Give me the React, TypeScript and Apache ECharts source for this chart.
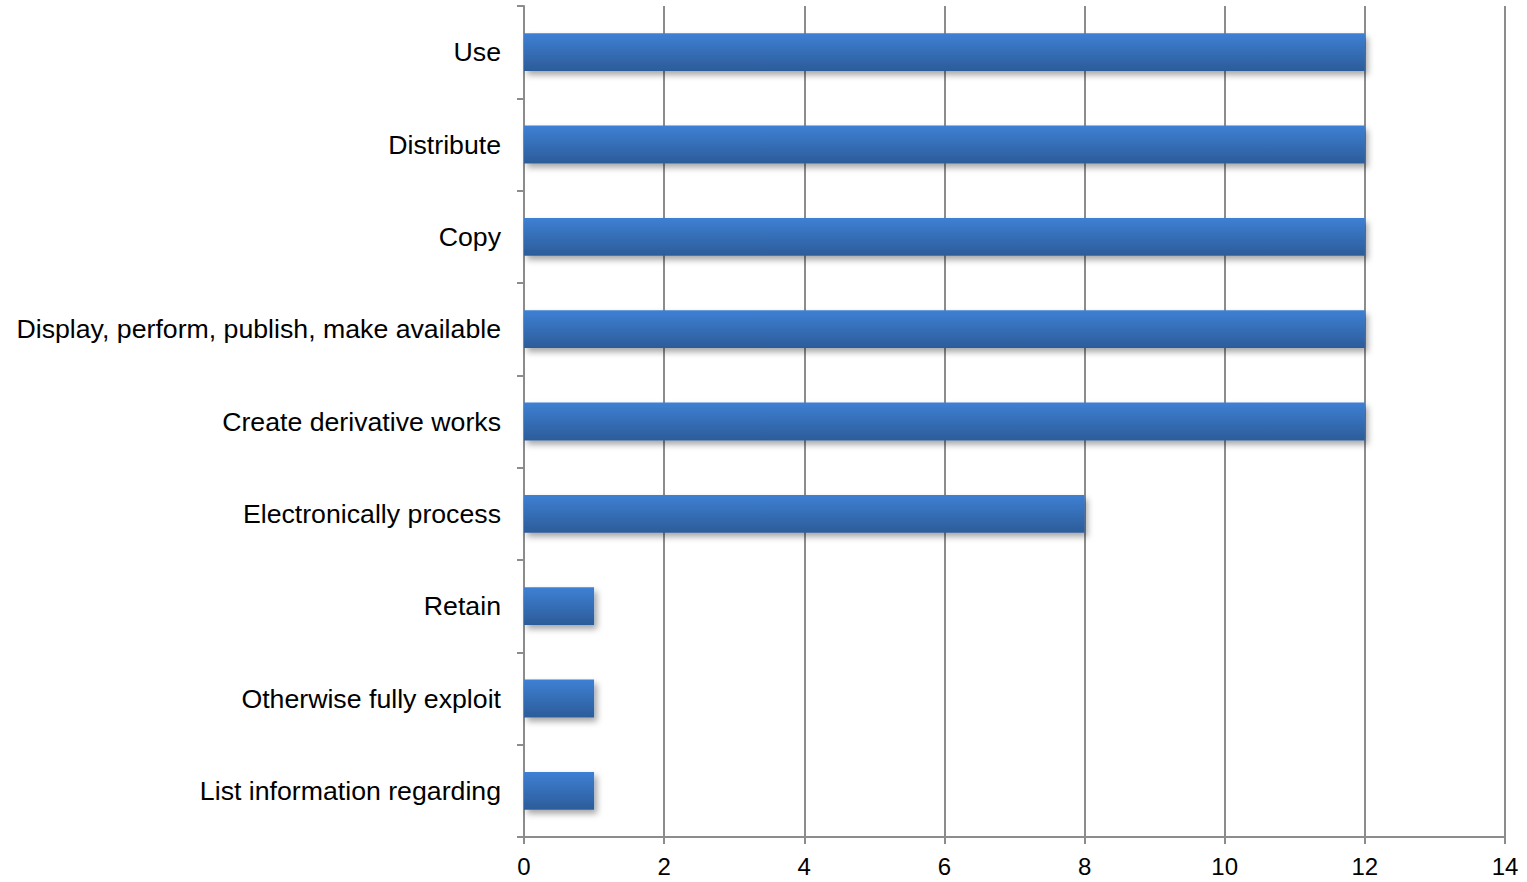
import React, { useEffect, useRef } from "react";
import * as echarts from "echarts";

const categories = [
  "Use",
  "Distribute",
  "Copy",
  "Display, perform, publish, make available",
  "Create derivative works",
  "Electronically process",
  "Retain",
  "Otherwise fully exploit",
  "List information regarding",
];
const values = [12, 12, 12, 12, 12, 8, 1, 1, 1];
const xTicks = { min: 0, max: 14, interval: 2 };

export default function App() {
  const ref = useRef<HTMLDivElement>(null);
  useEffect(() => {
    if (!ref.current) return;
    const chart = echarts.init(ref.current, undefined, { renderer: "svg" });
    const gray = "#8c8c8c";
    chart.setOption({
      animation: false,
      backgroundColor: "#ffffff",
      grid: { left: 524, right: 22, top: 6, bottom: 45, containLabel: false },
      xAxis: {
        type: "value",
        min: xTicks.min,
        max: xTicks.max,
        interval: xTicks.interval,
        axisLine: { show: true, lineStyle: { color: gray, width: 2 } },
        axisTick: { show: true, length: 7, lineStyle: { color: gray, width: 2 } },
        axisLabel: { color: "#000", fontSize: 24, fontFamily: "Liberation Sans, Arial, sans-serif", margin: 17 },
        splitLine: { show: true, lineStyle: { color: gray, width: 2 } },
      },
      yAxis: {
        type: "category",
        inverse: true,
        data: categories,
        axisLine: { show: true, lineStyle: { color: gray, width: 2 } },
        axisTick: { show: true, length: 7, alignWithLabel: false, lineStyle: { color: gray, width: 2 } },
        axisLabel: { color: "#000", fontSize: 26.7, fontFamily: "Liberation Sans, Arial, sans-serif", margin: 23 },
        splitLine: { show: false },
      },
      series: [
        {
          type: "bar",
          data: values,
          barWidth: "41%",
          itemStyle: {
            color: new echarts.graphic.LinearGradient(0, 0, 0, 1, [
              { offset: 0, color: "#3e80d4" },
              { offset: 1, color: "#2c5c99" },
            ]),
            shadowColor: "rgba(0,0,0,0.35)",
            shadowBlur: 6,
            shadowOffsetX: 3,
            shadowOffsetY: 4,
          },
        },
      ],
    });
    return () => chart.dispose();
  }, []);
  return (
    <div
      ref={ref}
      style={{ position: "absolute", left: 0, top: 0, width: 1527, height: 882 }}
    />
  );
}
